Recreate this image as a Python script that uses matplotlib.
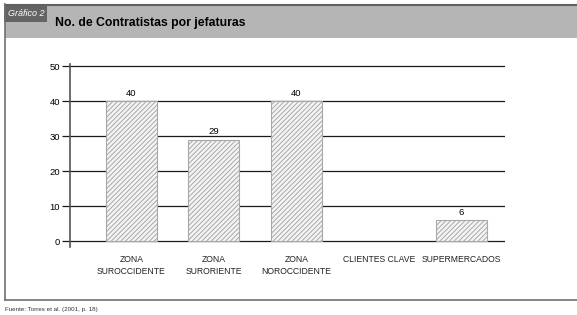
import numpy as np
import matplotlib.pyplot as plt
from matplotlib.patches import Rectangle
from matplotlib.lines import Line2D

plt.rcParams['font.family'] = ['Liberation Sans', 'DejaVu Sans']
plt.rcParams['hatch.color'] = '#a8a8a8'
plt.rcParams['hatch.linewidth'] = 0.7

# data
categorias = ['ZONA\nSUROCCIDENTE', 'ZONA\nSURORIENTE', 'ZONA\nNOROCCIDENTE',
              'CLIENTES CLAVE', 'SUPERMERCADOS']
contratistas = [40, 29, 40, 0, 6]
yticks = [0, 10, 20, 30, 40, 50]

W, H = 577, 315
fig = plt.figure(figsize=(W / 100, H / 100), dpi=100)

def fx(px):
    return px / W

def fy(py):
    return 1 - py / H

# header band
fig.patches.append(Rectangle((fx(5), fy(38)), fx(572), 34 / H, transform=fig.transFigure,
                             facecolor='#b5b5b5', edgecolor='none', zorder=0))
fig.lines.append(Line2D([fx(5), 1], [fy(4.5), fy(4.5)], transform=fig.transFigure,
                        color='#606060', lw=1.5))
fig.patches.append(Rectangle((fx(4), fy(22)), fx(43), 18 / H, transform=fig.transFigure,
                             facecolor='#646464', edgecolor='none', zorder=1))
fig.text(fx(8), fy(13), 'Gráfico 2', color='white', fontsize=6.5, va='center', ha='left',
         style='italic')
fig.text(fx(55), fy(23), 'No. de Contratistas por jefaturas', fontsize=8.8, fontweight='bold',
         va='center', ha='left')

# frame
fig.lines.append(Line2D([fx(5), fx(5)], [fy(4), fy(300)], transform=fig.transFigure,
                        color='#707070', lw=1.2))
fig.lines.append(Line2D([fx(5), 1], [fy(300), fy(300)], transform=fig.transFigure,
                        color='#707070', lw=1.2))
fig.text(fx(5), fy(309), 'Fuente: Torres et al. (2001, p. 18)', fontsize=4.5, color='#333333',
         va='center', ha='left')

# axes
ax = fig.add_axes([fx(70), fy(247), fx(505 - 70), (247 - 64) / H])
x = np.arange(len(categorias))
ax.set_xlim(-0.745, 4.53)
ax.set_ylim(-1.7, 50.6)

for v in yticks:
    ax.axhline(v, color='#1a1a1a', lw=0.9, zorder=1)

bars = ax.bar(x, contratistas, width=0.62, facecolor='#f4f4f4', edgecolor='#a8a8a8',
              hatch='///////', lw=0.8, zorder=2)
for b, v in zip(bars, contratistas):
    if v == 0:
        b.set_visible(False)
for xi, v in zip(x, contratistas):
    if v > 0:
        ax.text(xi, v + 1.0, str(v), ha='center', va='bottom', fontsize=6.8)

ax.set_yticks(yticks)
ax.set_xticks(x)
ax.set_xticklabels(categorias, fontsize=6.2, color='#222222', linespacing=1.45)
ax.tick_params(axis='x', length=0, pad=6)
ax.tick_params(axis='y', length=6, width=0.9, labelsize=6.8, pad=1, color='#1a1a1a')
for s in ['top', 'right', 'bottom']:
    ax.spines[s].set_visible(False)
ax.spines['left'].set_linewidth(1.2)
ax.spines['left'].set_color('#555555')
ax.patch.set_visible(False)

fig.savefig('out.png', dpi=100)
